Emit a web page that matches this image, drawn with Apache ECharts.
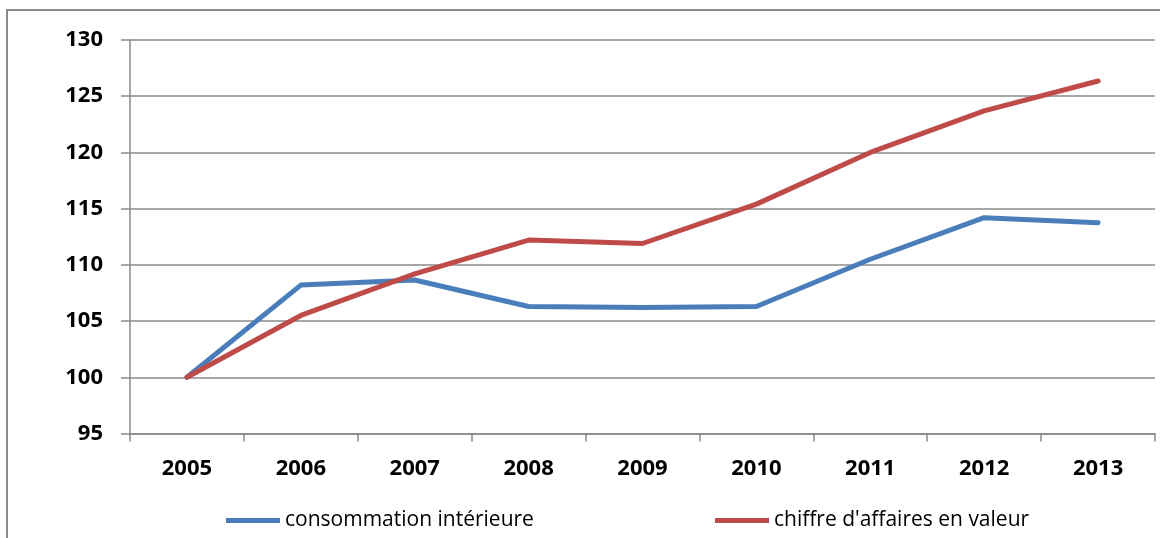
<!DOCTYPE html>
<html>
<head>
<meta charset="utf-8">
<script src="https://cdn.jsdelivr.net/npm/echarts@6/dist/echarts.min.js"></script>
<style>
  html, body { margin: 0; padding: 0; background: #fff; }
  #chart { width: 1160px; height: 538px; }
</style>
</head>
<body>
<div id="chart"></div>
<script>
// Index values (base 100 in 2005)
const years = ['2005', '2006', '2007', '2008', '2009', '2010', '2011', '2012', '2013'];
const consommationInterieure = [100, 108.2, 108.65, 106.3, 106.2, 106.3, 110.5, 114.2, 113.75];
const chiffreAffaires = [100, 105.5, 109.2, 112.2, 111.9, 115.4, 120.0, 123.7, 126.35];
const seriesNames = ['consommation intérieure', "chiffre d'affaires en valeur"];
const yMin = 95, yMax = 130, yStep = 5;

const FONT = '"Open Sans", "Liberation Sans", Arial, sans-serif';
const GRID_GRAY = '#8a8a8a';
const BLUE = '#4A7EBB';
const RED = '#BE4B48';

const chart = echarts.init(document.getElementById('chart'), null, { renderer: 'canvas' });

chart.setOption({
  animation: false,
  backgroundColor: '#ffffff',
  textStyle: { fontFamily: FONT },
  graphic: [{
    type: 'rect',
    shape: { x: 7, y: 10, width: 1200, height: 600 },
    style: { fill: 'none', stroke: GRID_GRAY, lineWidth: 2 },
    silent: true
  }],
  grid: { left: 130, right: 5, top: 40, bottom: 104.5, containLabel: false },
  legend: [
    {
      data: [seriesNames[0]],
      left: 221, top: 505,
      icon: 'rect', itemWidth: 54, itemHeight: 5, itemGap: 0,
      textStyle: { fontFamily: FONT, fontSize: 21, color: '#000' }
    },
    {
      data: [seriesNames[1]],
      left: 710, top: 505,
      icon: 'rect', itemWidth: 54, itemHeight: 5, itemGap: 0,
      textStyle: { fontFamily: FONT, fontSize: 21, color: '#000' }
    }
  ],
  xAxis: {
    type: 'category',
    data: years,
    boundaryGap: true,
    axisLine: { show: true, lineStyle: { color: GRID_GRAY, width: 1.5 } },
    axisTick: { show: true, length: 8, lineStyle: { color: GRID_GRAY, width: 1.5 } },
    axisLabel: { fontFamily: FONT, fontSize: 22, fontWeight: 'bold', color: '#000', margin: 24 },
    splitLine: { show: false }
  },
  yAxis: {
    type: 'value',
    min: yMin, max: yMax, interval: yStep,
    axisLine: { show: true, lineStyle: { color: GRID_GRAY, width: 1.5 } },
    axisTick: { show: true, length: 9, lineStyle: { color: GRID_GRAY, width: 1.5 } },
    axisLabel: { fontFamily: FONT, fontSize: 22, fontWeight: 'bold', color: '#000', margin: 27 },
    splitLine: { show: true, lineStyle: { color: GRID_GRAY, width: 1.5 } }
  },
  series: [
    {
      name: seriesNames[0],
      type: 'line',
      data: consommationInterieure,
      symbol: 'none',
      color: BLUE,
      lineStyle: { color: BLUE, width: 5, cap: 'round', join: 'round' },
      z: 3
    },
    {
      name: seriesNames[1],
      type: 'line',
      data: chiffreAffaires,
      symbol: 'none',
      color: RED,
      lineStyle: { color: RED, width: 5, cap: 'round', join: 'round' },
      z: 4
    }
  ]
});
</script>
</body>
</html>
